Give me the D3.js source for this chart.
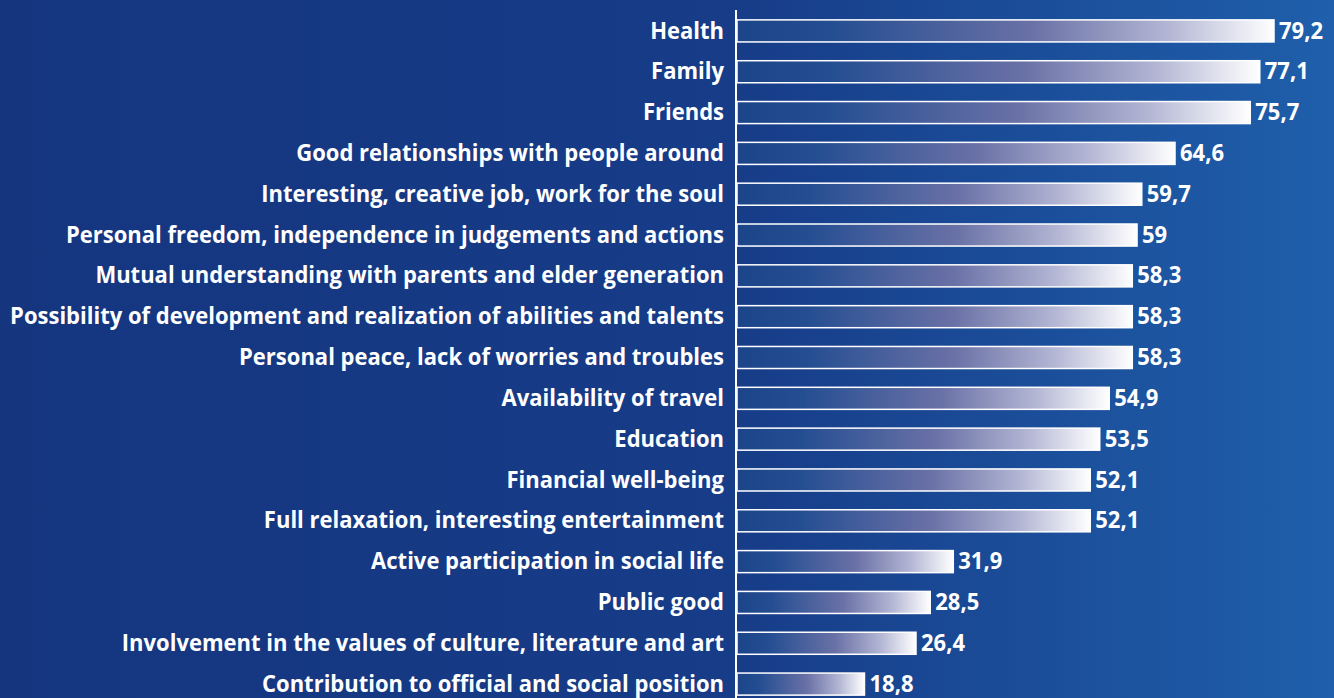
<!DOCTYPE html>
<html>
<head>
<meta charset="utf-8">
<script src="https://cdn.jsdelivr.net/npm/d3@7"></script>
<style>
  html, body { margin: 0; padding: 0; }
  svg { display: block; }
  text { font-family: "Open Sans", "Noto Sans", sans-serif; font-weight: 700; fill: #fff; }
</style>
</head>
<body>
<svg id="chart" width="1334" height="698"></svg>
<script>
var categories = [
  "Health",
  "Family",
  "Friends",
  "Good relationships with people around",
  "Interesting, creative job, work for the soul",
  "Personal freedom, independence in judgements and actions",
  "Mutual understanding with parents and elder generation",
  "Possibility of development and realization of abilities and talents",
  "Personal peace, lack of worries and troubles",
  "Availability of travel",
  "Education",
  "Financial well-being",
  "Full relaxation, interesting entertainment",
  "Active participation in social life",
  "Public good",
  "Involvement in the values of culture, literature and art",
  "Contribution to official and social position"
];
var values = [79.2, 77.1, 75.7, 64.6, 59.7, 59, 58.3, 58.3, 58.3, 54.9, 53.5, 52.1, 52.1, 31.9, 28.5, 26.4, 18.8];

var width = 1334, height = 698;
var x0 = 737;
var fontSize = 22.5;
var svg = d3.select("#chart");
var defs = svg.append("defs");

var bg = defs.append("linearGradient").attr("id", "bg")
  .attr("x1", 0).attr("x2", 1).attr("y1", 0).attr("y2", 0);
bg.append("stop").attr("offset", "0%").attr("stop-color", "#15357f");
bg.append("stop").attr("offset", "55%").attr("stop-color", "#173c88");
bg.append("stop").attr("offset", "100%").attr("stop-color", "#1f5fab");

var barGrad = defs.append("linearGradient").attr("id", "barGrad")
  .attr("x1", 0).attr("x2", 1).attr("y1", 0).attr("y2", 0);
barGrad.append("stop").attr("offset", "0%").attr("stop-color", "#1b4588");
barGrad.append("stop").attr("offset", "18%").attr("stop-color", "#254e92");
barGrad.append("stop").attr("offset", "55%").attr("stop-color", "#6a71a6");
barGrad.append("stop").attr("offset", "80%").attr("stop-color", "#b2b5d3");
barGrad.append("stop").attr("offset", "100%").attr("stop-color", "#ffffff");

svg.append("rect").attr("width", width).attr("height", height).attr("fill", "url(#bg)");

var x = d3.scaleLinear().domain([0, 79.2]).range([x0, 1274]);
var y = d3.scaleBand().domain(categories).range([10.5, 704.5]).paddingInner(0.46).paddingOuter(0.23);

var rows = svg.append("g").selectAll("g").data(categories).join("g");

rows.append("rect")
  .attr("x", x(0))
  .attr("y", d => y(d))
  .attr("width", (d, i) => x(values[i]) - x(0))
  .attr("height", y.bandwidth())
  .attr("fill", "url(#barGrad)")
  .attr("stroke", "#fff")
  .attr("stroke-width", 1.5);

rows.append("text")
  .attr("class", "cat")
  .attr("x", 724)
  .attr("y", d => y(d) + y.bandwidth() / 2)
  .attr("dy", "0.34em")
  .attr("text-anchor", "end")
  .attr("font-size", fontSize)
  .text(d => d);

rows.append("text")
  .attr("class", "val")
  .attr("x", (d, i) => x(values[i]) + 5)
  .attr("y", d => y(d) + y.bandwidth() / 2)
  .attr("dy", "0.34em")
  .attr("font-size", fontSize)
  .text((d, i) => String(values[i]).replace(".", ","));

svg.append("line")
  .attr("x1", x0 - 1).attr("x2", x0 - 1)
  .attr("y1", 10).attr("y2", height)
  .attr("stroke", "#fff").attr("stroke-width", 2);

// squeeze labels to the reference's narrower typeface
var longest = d3.max(svg.selectAll("text.cat").nodes(), n => n.getComputedTextLength());
var k = 714 / longest;
svg.selectAll("text").attr("transform", function () {
  var xx = +d3.select(this).attr("x"), yy = +d3.select(this).attr("y");
  return "translate(" + xx + "," + yy + ") scale(" + k + ",1) translate(" + -xx + "," + -yy + ")";
});
</script>
</body>
</html>
